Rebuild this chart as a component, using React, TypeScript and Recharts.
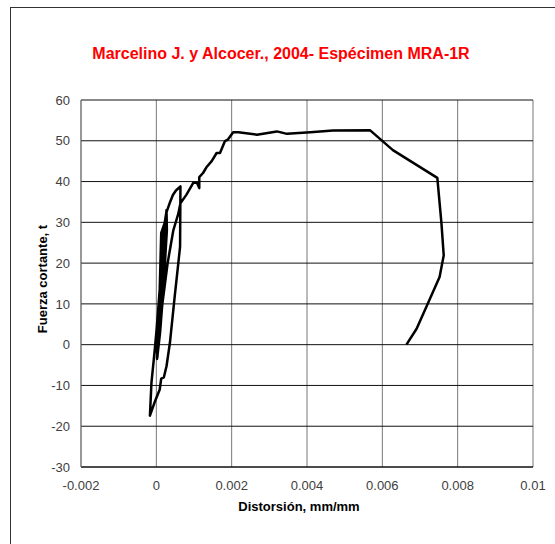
import React from 'react';
import { LineChart, Line, XAxis, YAxis, CartesianGrid } from 'recharts';

// distortion (mm/mm) and shear force (t), in drawing order
const distortion = [
  0, 0.00003, 0.00008, 0.00016, 0.00024, 0.00027, 0.00028, 0.0002, 0.0001, 0.00002,
  0.00006, 0.00014, 0.00019, 0.00027, 0.00035, 0.00044, 0.00052, 0.00064, 0.00063, 0.00056,
  0.00049, 0.00036, 0.00027, 0.0002, 0.00013, 0.00009, -0.00004, -0.00017, -0.00013, -0.00005,
  0.00001, 0.00009, 0.00013, 0.00022, 0.00027, 0.00027, 0.0002, 0.0001, 0.00002, 0.00006,
  0.00016, 0.0003, 0.00045, 0.00058, 0.00064, 0.0008, 0.00098, 0.00108, 0.00114, 0.00114,
  0.00124, 0.00133, 0.00147, 0.0016, 0.00169, 0.00182, 0.0019, 0.00204, 0.00218, 0.00267,
  0.0032, 0.00347, 0.00409, 0.00469, 0.00567, 0.00628, 0.00746, 0.00757, 0.00763, 0.00752,
  0.00717, 0.00691, 0.00664,
];
const force = [
  0, -3, 8, 20, 29, 33, 28, 16, 3, -3.5,
  5, 20, 28, 32.5, 34.6, 36.7, 37.8, 38.8, 24, 18,
  12, 0.4, -5.3, -8, -8.3, -11, -14, -17.4, -9.4, -2,
  4, 13.5, 27.4, 29.8, 32.7, 27, 15, 3, -3, 0,
  10, 20, 28, 32, 34.7, 36.8, 39.7, 39.7, 38.4, 41.1,
  42.1, 43.5, 45, 47, 47, 49.9, 50.3, 52.1, 52.1, 51.5,
  52.3, 51.7, 52.1, 52.5, 52.6, 47.7, 40.9, 29.7, 21.9, 16.6,
  9.3, 3.9, 0,
];

const xTicks = [-0.002, 0, 0.002, 0.004, 0.006, 0.008, 0.01];
const yTicks = [-30, -20, -10, 0, 10, 20, 30, 40, 50, 60];

const data = distortion.map((x, i) => ({ x, y: force[i] }));

const font = '"Liberation Sans", Arial, sans-serif';

export default function App() {
  return (
    <div style={{ position: 'fixed', left: 0, top: 0, width: 555, height: 544, overflow: 'hidden', background: '#fff', fontFamily: font }}>
      {/* chart area frame */}
      <div style={{ position: 'absolute', left: 10, top: 7, width: 600, height: 600, borderLeft: '1px solid #333', borderTop: '1px solid #333' }} />

      <div style={{ position: 'absolute', left: 0, top: 45, width: 562, textAlign: 'center', color: '#ff0000', fontWeight: 'bold', fontSize: 16 }}>
        Marcelino J. y Alcocer., 2004- Espécimen MRA-1R
      </div>

      <div style={{ position: 'absolute', left: 42, top: 279, width: 0, height: 0 }}>
        <div style={{ position: 'absolute', transform: 'translate(-50%, -50%) rotate(-90deg)', whiteSpace: 'nowrap', fontWeight: 'bold', fontSize: 13, color: '#000' }}>
          Fuerza cortante, t
        </div>
      </div>

      <div style={{ position: 'absolute', left: 0, top: 0 }}>
        <LineChart width={555} height={544} data={data} margin={{ top: 100, right: 22, left: 21, bottom: 47 }}>
          <CartesianGrid horizontal={false} stroke="#777" strokeOpacity={1} />
          <CartesianGrid vertical={false} stroke="#111" strokeOpacity={1} />
          <XAxis
            dataKey="x"
            type="number"
            domain={[-0.002, 0.01]}
            ticks={xTicks}
            allowDataOverflow
            height={30}
            tickLine={false}
            axisLine={{ stroke: '#111' }}
            tickMargin={8}
            tick={{ fill: '#404040', fontSize: 13, fontFamily: font }}
            tickFormatter={(v: number) => String(v)}
            label={{ value: 'Distorsión, mm/mm', position: 'bottom', offset: 5, dx: -8, fill: '#000', fontSize: 13, fontWeight: 'bold', fontFamily: font }}
          />
          <YAxis
            dataKey="y"
            type="number"
            domain={[-30, 60]}
            ticks={yTicks}
            width={60}
            tickLine={false}
            axisLine={{ stroke: '#777' }}
            tickMargin={5}
            tick={{ fill: '#404040', fontSize: 13, fontFamily: font }}
          />
          <Line
            dataKey="y"
            stroke="#000"
            strokeWidth={2.5}
            dot={false}
            isAnimationActive={false}
            strokeLinejoin="round"
          />
        </LineChart>
      </div>
    </div>
  );
}
